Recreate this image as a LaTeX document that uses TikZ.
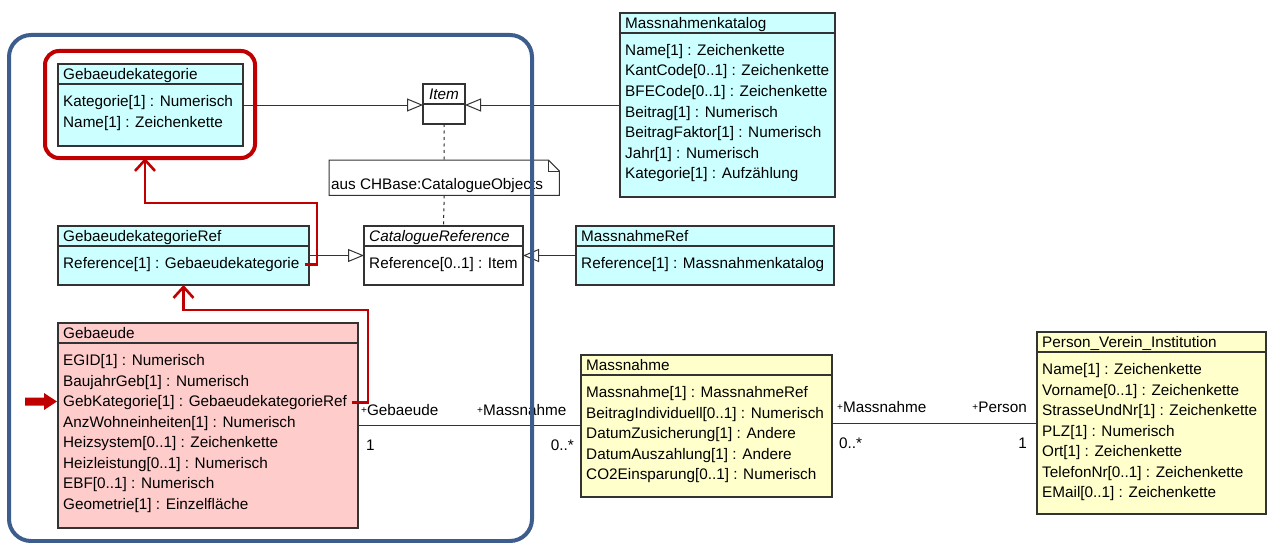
\documentclass[tikz,border=0pt]{standalone}
\usepackage{fontspec}
\setmainfont{Liberation Sans}
\usepackage{tikz}
\usetikzlibrary{arrows.meta,calc}
\definecolor{katcyan}{HTML}{CCFFFF}
\definecolor{gebpink}{HTML}{FFCCCC}
\definecolor{mnyellow}{HTML}{FFFFCC}
\definecolor{emphred}{HTML}{C00000}
\definecolor{frameblue}{HTML}{3D5D8D}
\newcommand{\rolle}{\raisebox{2.5pt}{\fontsize{10}{10}\selectfont+}}

\begin{document}
\begin{tikzpicture}[x=1pt,y=-1pt,font=\fontsize{15.3}{20.5}\selectfont,
  cls/.style={draw=black!80,line width=1.1pt,anchor=north west,inner sep=0pt,outer sep=0pt},
  txt/.style={anchor=base west,inner sep=0pt},
  assoc/.style={draw=black!80,line width=1pt},
  gen/.style={assoc,-{Triangle[open,length=16pt,width=13pt]}},
  dep/.style={draw=black!85,line width=1pt,dash pattern=on 3pt off 3.5pt},
  emph/.style={draw=emphred,line width=2.6pt,-{Straight Barb[length=11pt,width=20pt]}}]
  \useasboundingbox (0,0) rectangle (1269,543);

  % Katalogklassen
  \node[cls,fill=katcyan,minimum width=185pt,minimum height=82pt] (gk) at (58,64) {};
  \draw[cls] ([yshift=-20pt]gk.north west) -- ([yshift=-20pt]gk.north east);
  \node[txt] (gk-h) at ([xshift=5pt,yshift=-15.5pt]gk.north west) {Gebaeudekategorie};
  \foreach \a [count=\i] in {Kategorie[1] : Numerisch, Name[1] : Zeichenkette}
    \node[txt] (gk-\i) at ([xshift=5pt,yshift=-22pt-20.5pt*\i]gk.north west) {\a};

  \node[cls,fill=katcyan,minimum width=215pt,minimum height=184pt] (mk) at (620,13) {};
  \draw[cls] ([yshift=-20pt]mk.north west) -- ([yshift=-20pt]mk.north east);
  \node[txt] (mk-h) at ([xshift=5pt,yshift=-15.5pt]mk.north west) {Massnahmenkatalog};
  \foreach \a [count=\i] in {Name[1] : Zeichenkette, KantCode[0..1] : Zeichenkette,
      BFECode[0..1] : Zeichenkette, Beitrag[1] : Numerisch, BeitragFaktor[1] : Numerisch,
      Jahr[1] : Numerisch, Kategorie[1] : Aufzählung}
    \node[txt] (mk-\i) at ([xshift=5pt,yshift=-22pt-20.5pt*\i]mk.north west) {\a};

  \node[cls,minimum width=42pt,minimum height=40pt] (item) at (423,84) {};
  \draw[cls] ([yshift=-20pt]item.north west) -- ([yshift=-20pt]item.north east);
  \node[anchor=base,inner sep=0pt] (item-h) at ([yshift=-15.5pt]item.north) {\itshape Item};

  % Notiz
  \node[inner sep=0pt,minimum width=230pt,minimum height=35pt,anchor=north west] (note) at (329,160) {};
  \draw[assoc,fill=white] (note.south west) -- (note.north west) -- ([xshift=-11pt]note.north east)
    -- ([yshift=-11pt]note.north east) -- (note.south east) -- cycle;
  \draw[assoc] ([xshift=-11pt]note.north east) |- ([yshift=-11pt]note.north east);
  \node[txt] (note-t) at (331,189.5) {aus CHBase:CatalogueObjects};

  % Referenzen
  \node[cls,fill=katcyan,minimum width=251pt,minimum height=59pt] (gkr) at (58,226) {};
  \draw[cls] ([yshift=-20pt]gkr.north west) -- ([yshift=-20pt]gkr.north east);
  \node[txt] (gkr-h) at ([xshift=5pt,yshift=-15.5pt]gkr.north west) {GebaeudekategorieRef};
  \node[txt] (gkr-1) at ([xshift=5pt,yshift=-42.5pt]gkr.north west) {Reference[1] : Gebaeudekategorie};

  \node[cls,fill=white,minimum width=159pt,minimum height=59pt] (cr) at (364,226) {};
  \draw[cls] ([yshift=-20pt]cr.north west) -- ([yshift=-20pt]cr.north east);
  \node[txt] (cr-h) at ([xshift=5pt,yshift=-15.5pt]cr.north west) {\itshape CatalogueReference};
  \node[txt] (cr-1) at ([xshift=5pt,yshift=-42.5pt]cr.north west) {Reference[0..1] : Item};

  \node[cls,fill=katcyan,minimum width=258pt,minimum height=59pt] (mr) at (576,226) {};
  \draw[cls] ([yshift=-20pt]mr.north west) -- ([yshift=-20pt]mr.north east);
  \node[txt] (mr-h) at ([xshift=5pt,yshift=-15.5pt]mr.north west) {MassnahmeRef};
  \node[txt] (mr-1) at ([xshift=5pt,yshift=-42.5pt]mr.north west) {Reference[1] : Massnahmenkatalog};

  % Fachklassen
  \node[cls,fill=gebpink,minimum width=300pt,minimum height=205pt] (geb) at (58,323) {};
  \draw[cls] ([yshift=-20pt]geb.north west) -- ([yshift=-20pt]geb.north east);
  \node[txt] (geb-h) at ([xshift=5pt,yshift=-15.5pt]geb.north west) {Gebaeude};
  \foreach \a [count=\i] in {EGID[1] : Numerisch, BaujahrGeb[1] : Numerisch,
      GebKategorie[1] : GebaeudekategorieRef, AnzWohneinheiten[1] : Numerisch,
      Heizsystem[0..1] : Zeichenkette, Heizleistung[0..1] : Numerisch,
      EBF[0..1] : Numerisch, Geometrie[1] : Einzelfläche}
    \node[txt] (geb-\i) at ([xshift=5pt,yshift=-22pt-20.5pt*\i]geb.north west) {\a};

  \node[cls,fill=mnyellow,minimum width=251pt,minimum height=142pt] (mn) at (581,355) {};
  \draw[cls] ([yshift=-20pt]mn.north west) -- ([yshift=-20pt]mn.north east);
  \node[txt] (mn-h) at ([xshift=5pt,yshift=-15.5pt]mn.north west) {Massnahme};
  \foreach \a [count=\i] in {Massnahme[1] : MassnahmeRef, BeitragIndividuell[0..1] : Numerisch,
      DatumZusicherung[1] : Andere, DatumAuszahlung[1] : Andere, CO2Einsparung[0..1] : Numerisch}
    \node[txt] (mn-\i) at ([xshift=5pt,yshift=-22pt-20.5pt*\i]mn.north west) {\a};

  \node[cls,fill=mnyellow,minimum width=229pt,minimum height=182pt] (pvi) at (1037,332) {};
  \draw[cls] ([yshift=-20pt]pvi.north west) -- ([yshift=-20pt]pvi.north east);
  \node[txt] (pvi-h) at ([xshift=5pt,yshift=-15.5pt]pvi.north west) {Person\_Verein\_Institution};
  \foreach \a [count=\i] in {Name[1] : Zeichenkette, Vorname[0..1] : Zeichenkette,
      StrasseUndNr[1] : Zeichenkette, PLZ[1] : Numerisch, Ort[1] : Zeichenkette,
      TelefonNr[0..1] : Zeichenkette, EMail[0..1] : Zeichenkette}
    \node[txt] (pvi-\i) at ([xshift=5pt,yshift=-22pt-20.5pt*\i]pvi.north west) {\a};

  % Vererbung und Abhaengigkeit
  \draw[gen] (gk.east) -- (gk.east -| item.west);
  \draw[gen] (mk.west) -- (mk.west -| item.east);
  \draw[gen] (gkr.east) -- (gkr.east -| cr.west);
  \draw[gen] (mr.west) -- (mr.west -| cr.east);
  \draw[dep] (item.south) -- (note.north);
  \draw[dep] (note.south) -- (cr.north);

  % Assoziationen
  \draw[assoc] (geb.east) -- (geb.east -| mn.west);
  \draw[assoc] (pvi.west) -- (pvi.west -| mn.east);
  \node[txt] (r-geb) at (361,415.5) {\rolle Gebaeude};
  \node[txt] (r-mn1) at (477,415.5) {\rolle Massnahme};
  \node[txt] (c-geb) at (366,450) {1};
  \node[anchor=base east,inner sep=0pt] (c-mn1) at (574,450) {0..*};
  \node[txt] (r-mn2) at (837,412.5) {\rolle Massnahme};
  \node[anchor=base east,inner sep=0pt] (r-pvi) at (1027,412.5) {\rolle Person};
  \node[txt] (c-mn2) at (839,448) {0..*};
  \node[anchor=base east,inner sep=0pt] (c-pvi) at (1027,448) {1};

  % Hervorhebung
  \node[cls,draw=emphred,line width=4pt,rounded corners=14pt,minimum width=210pt,minimum height=107pt] (hl) at (45,51) {};
  \draw[emph] ([xshift=5pt]gkr-1.east) -| (317,203) -| ([xshift=-5pt]hl.south);
  \draw[emph] ([xshift=5pt]geb-3.east) -| (368,310) -| (gkr.south);
  \fill[emphred] (25,397.5) -- (44,397.5) -- (44,393) -- (57,401.5) -- (44,410) -- (44,405.5) -- (25,405.5) -- cycle;
  \draw[frameblue,line width=4pt,rounded corners=22pt] (9,35) rectangle (532,541);
\end{tikzpicture}
\end{document}
